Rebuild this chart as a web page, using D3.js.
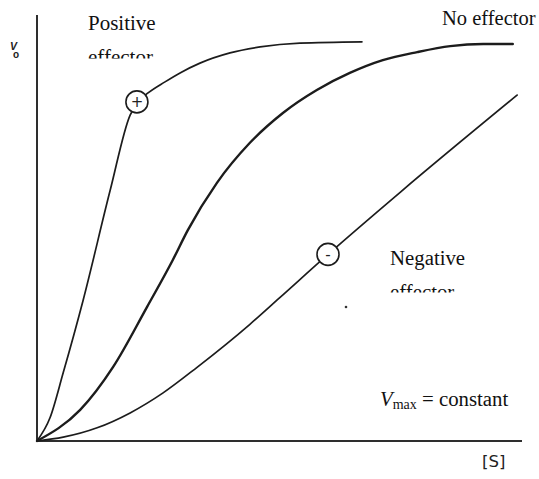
<!DOCTYPE html>
<html>
<head>
<meta charset="utf-8">
<script src="https://cdn.jsdelivr.net/npm/d3@7"></script>
<style>
  body { margin: 0; background: #fff; }
  .curve { fill: none; stroke: #1c1c1c; stroke-linecap: round; }
  .axis-line { stroke: #2e2e2e; stroke-width: 2; }
  .lbl { font-family: "Liberation Serif", "Times New Roman", serif; fill: #111; }
</style>
</head>
<body>
<svg id="chart" width="539" height="479"></svg>
<script>
// substrate [S] (arbitrary units) and initial velocity v0 for each curve
var posS = [0, 0.27, 0.54, 0.95, 1.51, 1.92, 2.12, 2.29, 2.64, 2.95, 3.36, 3.98, 4.60, 5.42, 6.70];
var posV = [0, 0.55, 1.60, 3.30, 5.89, 7.65, 8.00, 8.17, 8.43, 8.64, 8.87, 9.11, 9.25, 9.34, 9.37];

var noneS = [0, 0.89, 1.57, 2.27, 2.80, 3.11, 3.71, 4.39, 5.07, 5.77, 6.45, 7.13, 7.84, 8.52, 9.20, 9.81];
var noneV = [0, 0.73, 1.74, 3.15, 4.25, 4.95, 6.06, 7.00, 7.70, 8.24, 8.64, 8.94, 9.13, 9.27, 9.32, 9.32];

var negS = [0, 0.54, 1.24, 1.92, 2.60, 3.30, 4.39, 5.00, 6.00, 7.50, 9.90];
var negV = [0, 0.09, 0.31, 0.66, 1.13, 1.73, 2.74, 3.36, 4.38, 5.85, 8.12];

// where the +/- effector symbols sit on their curves
var markerS = [2.06, 6.00];
var markerV = [7.96, 4.38];
var markerSign = ["+", "-"];

var svg = d3.select("#chart");

var x = d3.scaleLinear().domain([0, 10]).range([37, 522]);
var y = d3.scaleLinear().domain([0, 10]).range([441, 15]);

function pts(s, v) {
  return s.map(function(d, i) { return [d, v[i]]; });
}

var line = d3.line()
  .x(function(d) { return x(d[0]); })
  .y(function(d) { return y(d[1]); })
  .curve(d3.curveMonotoneX);

// axes, plain lines only
svg.append("line").attr("class", "axis-line")
  .attr("x1", x(0)).attr("y1", y(0)).attr("x2", x(0)).attr("y2", y(10));
svg.append("line").attr("class", "axis-line")
  .attr("x1", x(0)).attr("y1", y(0)).attr("x2", x(10)).attr("y2", y(0));

svg.append("path").attr("class", "curve")
  .attr("stroke-width", 1.7)
  .attr("d", line(pts(posS, posV)));
svg.append("path").attr("class", "curve")
  .attr("stroke-width", 2.4)
  .attr("d", line(pts(noneS, noneV)));
svg.append("path").attr("class", "curve")
  .attr("stroke-width", 1.7)
  .attr("d", line(pts(negS, negV)));

var mk = svg.selectAll(".marker")
  .data(markerS)
  .enter().append("g")
  .attr("class", "marker")
  .attr("transform", function(d, i) { return "translate(" + x(d) + "," + y(markerV[i]) + ")"; });
mk.append("circle")
  .attr("r", 11)
  .attr("fill", "#fff")
  .attr("stroke", "#1c1c1c")
  .attr("stroke-width", 1.6);
mk.append("text")
  .attr("text-anchor", "middle")
  .attr("dy", "0.36em")
  .style("font-family", "'DejaVu Sans', sans-serif")
  .style("font-size", "15px")
  .attr("fill", "#222")
  .text(function(d, i) { return markerSign[i]; });

// stray scan dot
svg.append("circle").attr("cx", 346).attr("cy", 307).attr("r", 1.3).attr("fill", "#333");

// y label V0
var yl = svg.append("text")
  .attr("x", 10).attr("y", 50)
  .style("font-family", "'Liberation Sans', Arial, sans-serif")
  .style("font-weight", "bold")
  .attr("fill", "#222");
yl.append("tspan").style("font-style", "italic").style("font-size", "10.5px").text("V");
yl.append("tspan").attr("x", 13).attr("dy", 7.5).style("font-size", "10px").text("o");

// x label [S]
svg.append("text")
  .attr("x", 482).attr("y", 467)
  .style("font-family", "'DejaVu Sans', sans-serif")
  .style("font-size", "16.5px")
  .attr("fill", "#222")
  .text("[S]");

// the "effector" lines are cut off in the original
var defs = svg.append("defs");
defs.append("clipPath").attr("id", "clipPos")
  .append("rect").attr("x", 0).attr("y", 0).attr("width", 539).attr("height", 58.5);
defs.append("clipPath").attr("id", "clipNeg")
  .append("rect").attr("x", 0).attr("y", 0).attr("width", 539).attr("height", 292.5);

svg.append("text").attr("class", "lbl")
  .attr("x", 88).attr("y", 30)
  .style("font-size", "21px")
  .text("Positive");
svg.append("text").attr("class", "lbl")
  .attr("x", 88).attr("y", 64)
  .attr("clip-path", "url(#clipPos)")
  .style("font-size", "21px")
  .text("effector");

svg.append("text").attr("class", "lbl")
  .attr("x", 442).attr("y", 25)
  .style("font-size", "20.5px")
  .text("No effector");

svg.append("text").attr("class", "lbl")
  .attr("x", 390).attr("y", 265)
  .style("font-size", "20.8px")
  .text("Negative");
svg.append("text").attr("class", "lbl")
  .attr("x", 390).attr("y", 299)
  .attr("clip-path", "url(#clipNeg)")
  .style("font-size", "20.8px")
  .text("effector");

var vm = svg.append("text").attr("class", "lbl")
  .attr("x", 380).attr("y", 406)
  .style("font-size", "20.8px");
vm.append("tspan").style("font-style", "italic").text("V");
vm.append("tspan").attr("dy", 3).style("font-size", "14px").text("max");
vm.append("tspan").attr("dy", -3).text(" = constant");
</script>
</body>
</html>
